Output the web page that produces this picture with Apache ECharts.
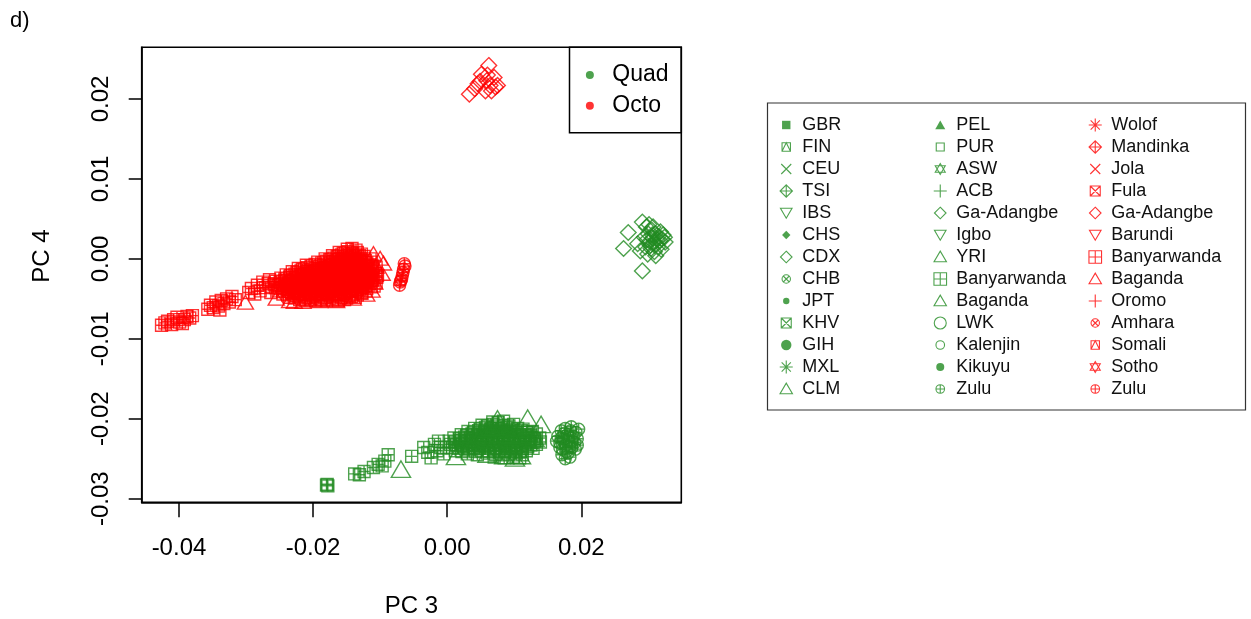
<!DOCTYPE html>
<html>
<head>
<meta charset="utf-8">
<script src="https://cdn.jsdelivr.net/npm/echarts@6/dist/echarts.min.js"></script>
<style>
  html, body { margin: 0; padding: 0; background: #fff; }
  #chart { width: 1251px; height: 619px; }
</style>
</head>
<body>
<div id="chart"></div>
<script>
// ---- tick values ----
const xTicks = [-0.04, -0.02, 0.00, 0.02];
const yTicks = [-0.03, -0.02, -0.01, 0.00, 0.01, 0.02];

// ---- legend columns (population labels and their marker shapes) ----
const quadPopsA = ['GBR', 'FIN', 'CEU', 'TSI', 'IBS', 'CHS', 'CDX', 'CHB', 'JPT', 'KHV', 'GIH', 'MXL', 'CLM'];
const quadShapesA = ['sqFill', 'sqTri', 'cross', 'diaPlus', 'triDown', 'diaFill', 'diamond', 'circX', 'dotSmall', 'sqX', 'dotBig', 'star', 'triUp'];
const quadPopsB = ['PEL', 'PUR', 'ASW', 'ACB', 'Ga-Adangbe', 'Igbo', 'YRI', 'Banyarwanda', 'Baganda', 'LWK', 'Kalenjin', 'Kikuyu', 'Zulu'];
const quadShapesB = ['triFill', 'square', 'david', 'plus', 'diamond', 'triDown', 'triUp', 'sqPlus', 'triUp', 'circle', 'circSmall', 'dotMid', 'circPlus'];
const octoPops = ['Wolof', 'Mandinka', 'Jola', 'Fula', 'Ga-Adangbe', 'Barundi', 'Banyarwanda', 'Baganda', 'Oromo', 'Amhara', 'Somali', 'Sotho', 'Zulu'];
const octoShapes = ['star', 'diaPlus', 'cross', 'sqX', 'diamond', 'triDown', 'sqPlus', 'triUp', 'plus', 'circX', 'sqTri', 'david', 'circPlus'];

// ---- sample coordinates [PC3, PC4] ----
const quadGaAdangbe = [
  [0.0263,0.0013],[0.0270,0.0033],[0.0284,0.0019],[0.0291,0.0046],[0.0294,0.0027],[0.0297,0.0040],[0.0300,0.0031],
  [0.0302,0.0022],[0.0305,0.0036],[0.0307,0.0026],[0.0310,0.0031],[0.0312,0.0018],[0.0315,0.0028],[0.0317,0.0023],
  [0.0320,0.0025],[0.0322,0.0030],[0.0325,0.0021],[0.0299,0.0006],[0.0304,0.0013],[0.0309,0.0009],[0.0314,0.0015],
  [0.0291,-0.0015],[0.0296,0.0015],[0.0307,0.0040],[0.0301,0.0043],[0.0318,0.0034],[0.0311,0.0004],[0.0288,0.0010],
  [0.0303,0.0017],[0.0308,0.0020],[0.0313,0.0024],[0.0298,0.0024],[0.0319,0.0012],[0.0324,0.0027],[0.0306,0.0030]
];
const quadBanyarwanda = [
  [-0.0179,-0.0282],[-0.0178,-0.0284],[-0.0180,-0.0283],[-0.0138,-0.0269],[-0.0131,-0.0270],[-0.0124,-0.0266],
  [-0.0110,-0.0261],[-0.0103,-0.0257],[-0.0097,-0.0259],[-0.0093,-0.0253],[-0.0088,-0.0245],[-0.0053,-0.0247],
  [-0.0035,-0.0236],[-0.0029,-0.0242],[-0.0024,-0.0249],[-0.0019,-0.0232],[-0.0015,-0.0240],[-0.0010,-0.0236],
  [-0.0005,-0.0244],[-0.0013,-0.0228],
  [0.0068,-0.0204],[0.0076,-0.0205],[0.0084,-0.0203],
  [0.0052,-0.0208],[0.0060,-0.0209],[0.0068,-0.0207],[0.0076,-0.0209],[0.0084,-0.0208],[0.0092,-0.0209],[0.0099,-0.0207],
  [0.0041,-0.0212],[0.0049,-0.0213],[0.0057,-0.0211],[0.0065,-0.0213],[0.0073,-0.0212],[0.0081,-0.0213],[0.0089,-0.0211],
  [0.0097,-0.0213],[0.0105,-0.0212],[0.0113,-0.0213],
  [0.0031,-0.0216],[0.0039,-0.0217],[0.0047,-0.0215],[0.0055,-0.0217],[0.0063,-0.0216],[0.0071,-0.0217],[0.0079,-0.0215],
  [0.0087,-0.0217],[0.0095,-0.0216],[0.0103,-0.0217],[0.0111,-0.0215],[0.0119,-0.0217],[0.0127,-0.0216],
  [0.0021,-0.0220],[0.0029,-0.0221],[0.0037,-0.0219],[0.0045,-0.0221],[0.0053,-0.0220],[0.0061,-0.0221],[0.0069,-0.0219],
  [0.0077,-0.0221],[0.0085,-0.0220],[0.0093,-0.0221],[0.0101,-0.0219],[0.0109,-0.0221],[0.0117,-0.0220],[0.0125,-0.0221],
  [0.0133,-0.0219],
  [0.0010,-0.0224],[0.0018,-0.0225],[0.0026,-0.0223],[0.0034,-0.0225],[0.0042,-0.0224],[0.0050,-0.0225],[0.0058,-0.0223],
  [0.0066,-0.0225],[0.0074,-0.0224],[0.0082,-0.0225],[0.0090,-0.0223],[0.0098,-0.0225],[0.0106,-0.0224],[0.0114,-0.0225],
  [0.0122,-0.0223],[0.0130,-0.0225],[0.0138,-0.0224],
  [0.0003,-0.0228],[0.0011,-0.0229],[0.0019,-0.0227],[0.0027,-0.0229],[0.0035,-0.0228],[0.0043,-0.0229],[0.0051,-0.0227],
  [0.0059,-0.0229],[0.0067,-0.0228],[0.0075,-0.0229],[0.0083,-0.0227],[0.0091,-0.0229],[0.0099,-0.0228],[0.0107,-0.0229],
  [0.0115,-0.0227],[0.0123,-0.0229],[0.0131,-0.0228],[0.0139,-0.0229],
  [0.0005,-0.0232],[0.0013,-0.0233],[0.0021,-0.0231],[0.0029,-0.0233],[0.0037,-0.0232],[0.0045,-0.0233],[0.0053,-0.0231],
  [0.0061,-0.0233],[0.0069,-0.0232],[0.0077,-0.0233],[0.0085,-0.0231],[0.0093,-0.0233],[0.0101,-0.0232],[0.0109,-0.0233],
  [0.0117,-0.0231],[0.0125,-0.0233],[0.0133,-0.0232],
  [0.0008,-0.0236],[0.0016,-0.0237],[0.0024,-0.0235],[0.0032,-0.0237],[0.0040,-0.0236],[0.0048,-0.0237],[0.0056,-0.0235],
  [0.0064,-0.0237],[0.0072,-0.0236],[0.0080,-0.0237],[0.0088,-0.0235],[0.0096,-0.0237],[0.0104,-0.0236],[0.0112,-0.0237],
  [0.0120,-0.0235],[0.0128,-0.0237],
  [0.0012,-0.0240],[0.0022,-0.0241],[0.0032,-0.0239],[0.0042,-0.0241],[0.0052,-0.0240],[0.0062,-0.0241],[0.0070,-0.0239],
  [0.0078,-0.0241],[0.0086,-0.0240],[0.0094,-0.0241],[0.0102,-0.0239],[0.0110,-0.0241],[0.0118,-0.0240],
  [0.0030,-0.0244],[0.0045,-0.0245],[0.0060,-0.0243],[0.0072,-0.0245],[0.0082,-0.0244],[0.0092,-0.0245],[0.0102,-0.0243],
  [0.0112,-0.0245],
  [0.0070,-0.0248],[0.0085,-0.0249],[0.0098,-0.0248],[0.0108,-0.0249]
];
const quadBaganda = [
  [-0.0069,-0.0264],[0.0013,-0.0248],[0.0120,-0.0200],[0.0140,-0.0208],[0.0075,-0.0201],[0.0101,-0.0250],
  [0.0085,-0.0247],[0.0060,-0.0245],[0.0110,-0.0247],[0.0095,-0.0222],[0.0130,-0.0225],[0.0050,-0.0228],
  [0.0065,-0.0212],[0.0035,-0.0232]
];
const quadZulu = [
  [0.0165,-0.0222],[0.0168,-0.0230],[0.0170,-0.0215],[0.0172,-0.0238],[0.0174,-0.0225],[0.0176,-0.0212],[0.0177,-0.0233],
  [0.0179,-0.0220],[0.0180,-0.0243],[0.0182,-0.0228],[0.0184,-0.0215],[0.0186,-0.0236],[0.0188,-0.0222],[0.0190,-0.0230],
  [0.0192,-0.0217],[0.0194,-0.0225],[0.0196,-0.0213],[0.0171,-0.0245],[0.0176,-0.0250],[0.0183,-0.0248],[0.0168,-0.0236],
  [0.0175,-0.0218],[0.0181,-0.0223],[0.0187,-0.0228],[0.0191,-0.0238],[0.0173,-0.0228],[0.0185,-0.0210],[0.0178,-0.0241],
  [0.0163,-0.0228],[0.0194,-0.0233],[0.0170,-0.0224],[0.0183,-0.0235]
];
const octoGaAdangbe = [
  [0.0033,0.0206],[0.0041,0.0213],[0.0046,0.0219],[0.0051,0.0231],[0.0062,0.0242],[0.0059,0.0223],[0.0064,0.0217],
  [0.0070,0.0227],[0.0072,0.0215],[0.0075,0.0217],[0.0057,0.0210],[0.0049,0.0222],[0.0060,0.0230],[0.0066,0.0210]
];
const octoZulu = [
  [-0.0071,-0.0033],[-0.0070,-0.0029],[-0.0068,-0.0025],[-0.0067,-0.0021],[-0.0066,-0.0017],[-0.0065,-0.0013],
  [-0.0063,-0.0009],[-0.0064,-0.0006],[-0.0069,-0.0027]
];
const octoBaganda = [
  [-0.0301,-0.0055],[-0.0255,-0.0050],[-0.0235,-0.0053],[-0.0228,-0.0054],[-0.0215,-0.0054],[-0.0190,-0.0053],
  [-0.0165,-0.0053],[-0.0140,-0.0050],[-0.0120,-0.0045],[-0.0100,0.0000],[-0.0095,-0.0006],[-0.0097,-0.0019],
  [-0.0106,-0.0010],[-0.0108,-0.0030],[-0.0112,-0.0040],[-0.0110,0.0006],[-0.0115,-0.0025]
];
const octoBanyarwanda = [
  [-0.0426,-0.0083],[-0.0421,-0.0080],[-0.0417,-0.0078],[-0.0411,-0.0082],[-0.0408,-0.0076],[-0.0403,-0.0073],
  [-0.0399,-0.0079],[-0.0395,-0.0081],[-0.0392,-0.0076],[-0.0388,-0.0072],[-0.0384,-0.0074],[-0.0380,-0.0071],
  [-0.0357,-0.0063],[-0.0353,-0.0058],[-0.0349,-0.0061],[-0.0345,-0.0054],[-0.0341,-0.0059],[-0.0337,-0.0052],
  [-0.0333,-0.0056],[-0.0329,-0.0050],[-0.0325,-0.0054],[-0.0321,-0.0047],[-0.0316,-0.0051],[-0.0339,-0.0064],
  [-0.0296,-0.0042],[-0.0292,-0.0037],[-0.0287,-0.0044],[-0.0283,-0.0033],[-0.0279,-0.0040],[-0.0275,-0.0029],
  [-0.0271,-0.0036],[-0.0267,-0.0031],[-0.0263,-0.0042],[-0.0265,-0.0026],
  [-0.0149,0.0012],[-0.0142,0.0013],[-0.0136,0.0011],
  [-0.0161,0.0008],[-0.0155,0.0007],[-0.0148,0.0009],[-0.0141,0.0007],[-0.0134,0.0008],[-0.0128,0.0006],
  [-0.0171,0.0004],[-0.0164,0.0003],[-0.0158,0.0005],[-0.0151,0.0003],[-0.0145,0.0004],[-0.0138,0.0002],[-0.0131,0.0004],
  [-0.0124,0.0003],
  [-0.0182,0.0000],[-0.0175,-0.0001],[-0.0169,0.0001],[-0.0162,-0.0001],[-0.0156,0.0000],[-0.0149,-0.0002],[-0.0143,0.0001],
  [-0.0136,-0.0001],[-0.0129,0.0000],[-0.0122,-0.0002],[-0.0115,0.0000],
  [-0.0193,-0.0004],[-0.0187,-0.0005],[-0.0180,-0.0003],[-0.0174,-0.0005],[-0.0167,-0.0004],[-0.0160,-0.0006],[-0.0154,-0.0003],
  [-0.0147,-0.0005],[-0.0140,-0.0004],[-0.0134,-0.0006],[-0.0127,-0.0003],[-0.0120,-0.0005],[-0.0113,-0.0004],
  [-0.0210,-0.0008],[-0.0203,-0.0009],[-0.0197,-0.0007],[-0.0190,-0.0009],[-0.0184,-0.0008],[-0.0177,-0.0010],[-0.0171,-0.0007],
  [-0.0164,-0.0009],[-0.0158,-0.0008],[-0.0151,-0.0010],[-0.0145,-0.0007],[-0.0138,-0.0009],[-0.0132,-0.0008],[-0.0125,-0.0010],
  [-0.0118,-0.0008],[-0.0111,-0.0009],
  [-0.0222,-0.0012],[-0.0216,-0.0013],[-0.0209,-0.0011],[-0.0203,-0.0014],[-0.0196,-0.0012],[-0.0190,-0.0013],[-0.0183,-0.0011],
  [-0.0177,-0.0014],[-0.0170,-0.0012],[-0.0164,-0.0013],[-0.0157,-0.0011],[-0.0151,-0.0014],[-0.0144,-0.0012],[-0.0138,-0.0013],
  [-0.0131,-0.0011],[-0.0125,-0.0014],[-0.0118,-0.0012],[-0.0112,-0.0013],[-0.0106,-0.0011],
  [-0.0231,-0.0016],[-0.0224,-0.0017],[-0.0218,-0.0015],[-0.0211,-0.0018],[-0.0205,-0.0016],[-0.0198,-0.0017],[-0.0192,-0.0015],
  [-0.0185,-0.0018],[-0.0179,-0.0016],[-0.0172,-0.0017],[-0.0166,-0.0015],[-0.0159,-0.0018],[-0.0153,-0.0016],[-0.0146,-0.0017],
  [-0.0140,-0.0015],[-0.0133,-0.0018],[-0.0127,-0.0016],[-0.0120,-0.0017],[-0.0114,-0.0015],[-0.0107,-0.0018],
  [-0.0240,-0.0020],[-0.0234,-0.0021],[-0.0227,-0.0019],[-0.0221,-0.0022],[-0.0214,-0.0020],[-0.0208,-0.0021],[-0.0201,-0.0019],
  [-0.0195,-0.0022],[-0.0188,-0.0020],[-0.0182,-0.0021],[-0.0175,-0.0019],[-0.0169,-0.0022],[-0.0162,-0.0020],[-0.0156,-0.0021],
  [-0.0149,-0.0019],[-0.0143,-0.0022],[-0.0136,-0.0020],[-0.0130,-0.0021],[-0.0123,-0.0019],[-0.0117,-0.0022],[-0.0110,-0.0020],
  [-0.0104,-0.0021],
  [-0.0248,-0.0024],[-0.0242,-0.0025],[-0.0235,-0.0023],[-0.0229,-0.0026],[-0.0222,-0.0024],[-0.0216,-0.0025],[-0.0209,-0.0023],
  [-0.0203,-0.0026],[-0.0196,-0.0024],[-0.0190,-0.0025],[-0.0183,-0.0023],[-0.0177,-0.0026],[-0.0170,-0.0024],[-0.0164,-0.0025],
  [-0.0157,-0.0023],[-0.0151,-0.0026],[-0.0144,-0.0024],[-0.0138,-0.0025],[-0.0131,-0.0023],[-0.0125,-0.0026],[-0.0118,-0.0024],
  [-0.0112,-0.0025],[-0.0105,-0.0023],
  [-0.0255,-0.0028],[-0.0249,-0.0029],[-0.0242,-0.0027],[-0.0236,-0.0030],[-0.0229,-0.0028],[-0.0223,-0.0029],[-0.0216,-0.0027],
  [-0.0210,-0.0030],[-0.0203,-0.0028],[-0.0197,-0.0029],[-0.0190,-0.0027],[-0.0184,-0.0030],[-0.0177,-0.0028],[-0.0171,-0.0029],
  [-0.0164,-0.0027],[-0.0158,-0.0030],[-0.0151,-0.0028],[-0.0145,-0.0029],[-0.0138,-0.0027],[-0.0132,-0.0030],[-0.0125,-0.0028],
  [-0.0119,-0.0029],[-0.0112,-0.0027],[-0.0106,-0.0030],
  [-0.0258,-0.0032],[-0.0252,-0.0033],[-0.0245,-0.0031],[-0.0239,-0.0034],[-0.0232,-0.0032],[-0.0226,-0.0033],[-0.0219,-0.0031],
  [-0.0213,-0.0034],[-0.0206,-0.0032],[-0.0200,-0.0033],[-0.0193,-0.0031],[-0.0187,-0.0034],[-0.0180,-0.0032],[-0.0174,-0.0033],
  [-0.0167,-0.0031],[-0.0161,-0.0034],[-0.0154,-0.0032],[-0.0148,-0.0033],[-0.0141,-0.0031],[-0.0135,-0.0034],[-0.0128,-0.0032],
  [-0.0122,-0.0033],[-0.0115,-0.0031],[-0.0109,-0.0034],
  [-0.0256,-0.0036],[-0.0250,-0.0037],[-0.0243,-0.0035],[-0.0237,-0.0038],[-0.0230,-0.0036],[-0.0224,-0.0037],[-0.0217,-0.0035],
  [-0.0211,-0.0038],[-0.0204,-0.0036],[-0.0198,-0.0037],[-0.0191,-0.0035],[-0.0185,-0.0038],[-0.0178,-0.0036],[-0.0172,-0.0037],
  [-0.0165,-0.0035],[-0.0159,-0.0038],[-0.0152,-0.0036],[-0.0146,-0.0037],[-0.0139,-0.0035],[-0.0133,-0.0038],[-0.0126,-0.0036],
  [-0.0120,-0.0037],[-0.0113,-0.0035],
  [-0.0252,-0.0040],[-0.0245,-0.0041],[-0.0239,-0.0039],[-0.0232,-0.0042],[-0.0226,-0.0040],[-0.0219,-0.0041],[-0.0213,-0.0039],
  [-0.0206,-0.0042],[-0.0200,-0.0040],[-0.0193,-0.0041],[-0.0187,-0.0039],[-0.0180,-0.0042],[-0.0174,-0.0040],[-0.0167,-0.0041],
  [-0.0161,-0.0039],[-0.0154,-0.0042],[-0.0148,-0.0040],[-0.0141,-0.0041],[-0.0135,-0.0039],[-0.0128,-0.0042],[-0.0121,-0.0040],
  [-0.0245,-0.0044],[-0.0238,-0.0045],[-0.0232,-0.0043],[-0.0225,-0.0046],[-0.0219,-0.0044],[-0.0212,-0.0045],[-0.0206,-0.0043],
  [-0.0199,-0.0046],[-0.0193,-0.0044],[-0.0186,-0.0045],[-0.0180,-0.0043],[-0.0173,-0.0046],[-0.0167,-0.0044],[-0.0160,-0.0045],
  [-0.0154,-0.0043],[-0.0147,-0.0046],[-0.0141,-0.0044],[-0.0134,-0.0045],[-0.0127,-0.0043],
  [-0.0235,-0.0048],[-0.0228,-0.0049],[-0.0222,-0.0047],[-0.0215,-0.0050],[-0.0209,-0.0048],[-0.0202,-0.0049],[-0.0196,-0.0047],
  [-0.0189,-0.0050],[-0.0183,-0.0048],[-0.0176,-0.0049],[-0.0170,-0.0047],[-0.0163,-0.0050],[-0.0157,-0.0048],[-0.0150,-0.0049],
  [-0.0143,-0.0047],[-0.0137,-0.0048],
  [-0.0220,-0.0051],[-0.0212,-0.0052],[-0.0204,-0.0051],[-0.0196,-0.0052],[-0.0188,-0.0051],[-0.0180,-0.0052],[-0.0171,-0.0051],
  [-0.0162,-0.0052],[-0.0153,-0.0051]
];

const pointsByKey = {
  'q:Ga-Adangbe': quadGaAdangbe,
  'q:Banyarwanda': quadBanyarwanda,
  'q:Baganda': quadBaganda,
  'q:Zulu': quadZulu,
  'o:Ga-Adangbe': octoGaAdangbe,
  'o:Banyarwanda': octoBanyarwanda,
  'o:Baganda': octoBaganda,
  'o:Zulu': octoZulu
};

// ---- styling ----
const GREEN = '#228B22';
const RED = '#FF0000';
const FONT = "'Liberation Sans', Arial, Helvetica, sans-serif";

// marker outlines in a fixed 20x20 frame (the leading moves pin the frame)
const FRAME = 'M0 0M20 20';
const SHAPES = {
  sqFill:    'M5.8 5.8H14.2V14.2H5.8Z',
  sqTri:     'M5.8 5.8H14.2V14.2H5.8ZM5.8 14.2L10 5.8L14.2 14.2',
  cross:     'M5 5L15 15M15 5L5 15',
  diaPlus:   'M10 3.8L16.2 10L10 16.2L3.8 10ZM3.8 10H16.2M10 3.8V16.2',
  triDown:   'M4.2 5.2H15.8L10 15.2Z',
  diaFill:   'M10 5.8L14.2 10L10 14.2L5.8 10Z',
  diamond:   'M10 4.2L15.8 10L10 15.8L4.2 10Z',
  circX:     'M5.8 10A4.2 4.2 0 1 1 14.2 10A4.2 4.2 0 1 1 5.8 10ZM7 7L13 13M13 7L7 13',
  dotSmall:  'M6.8 10A3.2 3.2 0 1 1 13.2 10A3.2 3.2 0 1 1 6.8 10Z',
  sqX:       'M5 5H15V15H5ZM5 5L15 15M15 5L5 15',
  dotBig:    'M4.8 10A5.2 5.2 0 1 1 15.2 10A5.2 5.2 0 1 1 4.8 10Z',
  star:      'M10 3.5V16.5M3.5 10H16.5M5.4 5.4L14.6 14.6M14.6 5.4L5.4 14.6',
  triUp:     'M3.8 14.8H16.2L10 4.2Z',
  triFill:   'M5 14.2H15L10 5.6Z',
  square:    'M6 6H14V14H6Z',
  david:     'M10 4.5L15 13.2H5ZM10 15.5L5 6.8H15Z',
  plus:      'M10 3.5V16.5M3.5 10H16.5',
  sqPlus:    'M3.7 3.7H16.3V16.3H3.7ZM10 3.7V16.3M3.7 10H16.3',
  circle:    'M4 10A6 6 0 1 1 16 10A6 6 0 1 1 4 10Z',
  circSmall: 'M5.7 10A4.3 4.3 0 1 1 14.3 10A4.3 4.3 0 1 1 5.7 10Z',
  dotMid:    'M6 10A4 4 0 1 1 14 10A4 4 0 1 1 6 10Z',
  circPlus:  'M5.7 10A4.3 4.3 0 1 1 14.3 10A4.3 4.3 0 1 1 5.7 10ZM5.7 10H14.3M10 5.7V14.3'
};
const FILLED = new Set(['sqFill', 'diaFill', 'dotSmall', 'dotBig', 'triFill', 'dotMid']);
const symbolOf = k => 'path://' + FRAME + SHAPES[k];
// group-key dot, centred in a 35x8 legend slot
const GROUP_DOT = 'path://M0 0M35 8M13.3 4A4.2 4.2 0 1 1 21.7 4A4.2 4.2 0 1 1 13.3 4Z';

// marker size inside the plot panel
const plotSize = {
  'q:Banyarwanda': 19, 'q:Baganda': 31, 'q:Ga-Adangbe': 27, 'q:Zulu': 28,
  'o:Banyarwanda': 19, 'o:Baganda': 26, 'o:Ga-Adangbe': 27, 'o:Zulu': 28
};

function markerStyle(shape, color, width) {
  return FILLED.has(shape)
    ? { color: color, borderColor: color, borderWidth: 0 }
    : { color: 'rgba(0,0,0,0)', borderColor: color, borderWidth: width };
}

function popSeries(prefix, color, names, shapes) {
  return names.map((n, i) => {
    const key = prefix + ':' + n;
    return {
      type: 'scatter',
      name: key,
      data: pointsByKey[key] || [],
      symbol: symbolOf(shapes[i]),
      symbolSize: plotSize[key] || 20,
      symbolKeepAspect: true,
      itemStyle: markerStyle(shapes[i], color, 1.4),
      silent: true,
      emphasis: { disabled: true }
    };
  });
}

function popLegend(left, prefix, color, names, shapes) {
  return {
    left: left, top: 114, orient: 'vertical', padding: 0, itemGap: 0,
    itemWidth: 22, itemHeight: 20, selectedMode: false,
    formatter: n => n.slice(2),
    textStyle: { fontSize: 18, lineHeight: 22, color: '#111', fontFamily: FONT },
    data: names.map((n, i) => ({
      name: prefix + ':' + n,
      icon: symbolOf(shapes[i]),
      itemStyle: markerStyle(shapes[i], color, 1.1)
    }))
  };
}

const series = [].concat(
  popSeries('q', GREEN, quadPopsA, quadShapesA),
  popSeries('q', GREEN, quadPopsB, quadShapesB),
  popSeries('o', RED, octoPops, octoShapes),
  [
    { type: 'scatter', name: 'Quad', data: [], itemStyle: { color: GREEN } },
    { type: 'scatter', name: 'Octo', data: [], itemStyle: { color: RED } }
  ]
);

const chart = echarts.init(document.getElementById('chart'), null, { renderer: 'canvas' });
chart.setOption({
  animation: false,
  backgroundColor: '#fff',
  textStyle: { fontFamily: FONT },
  grid: {
    left: 141.7, top: 47.3, width: 539.6, height: 455,
    show: true, borderColor: '#000', borderWidth: 1.6,
    containLabel: false, outerBoundsMode: 'none'
  },
  xAxis: {
    type: 'value', min: -0.04556, max: 0.03491,
    axisLine: { show: true, onZero: false, lineStyle: { color: '#000', width: 1.6 } },
    axisTick: { show: true, length: 15, customValues: xTicks, lineStyle: { color: '#000', width: 1.5 } },
    axisLabel: { customValues: xTicks, formatter: v => v.toFixed(2), fontSize: 24, color: '#000', margin: 34 },
    splitLine: { show: false },
    name: 'PC 3', nameLocation: 'middle', nameGap: 92,
    nameTextStyle: { fontSize: 24, color: '#000' }
  },
  yAxis: {
    type: 'value', min: -0.03045, max: 0.02647,
    axisLine: { show: true, onZero: false, lineStyle: { color: '#000', width: 1.6 } },
    axisTick: { show: true, length: 13, customValues: yTicks, lineStyle: { color: '#000', width: 1.5 } },
    axisLabel: { customValues: yTicks, formatter: v => v.toFixed(2), rotate: 90, fontSize: 24, color: '#000', margin: 28 },
    splitLine: { show: false }
  },
  legend: [
    popLegend(775.7, 'q', GREEN, quadPopsA, quadShapesA),
    popLegend(929.7, 'q', GREEN, quadPopsB, quadShapesB),
    popLegend(1084.7, 'o', RED, octoPops, octoShapes),
    {
      left: 573.2, top: 59.6, orient: 'vertical', padding: 0, itemGap: 0,
      itemWidth: 35, itemHeight: 8, selectedMode: false,
      textStyle: { fontSize: 23, lineHeight: 30.7, color: '#000', fontFamily: FONT },
      data: [
        { name: 'Quad', icon: GROUP_DOT, itemStyle: { color: GREEN } },
        { name: 'Octo', icon: GROUP_DOT, itemStyle: { color: RED } }
      ]
    }
  ],
  graphic: [
    { type: 'text', left: 10, top: 10, style: { text: 'd)', fontSize: 22, fill: '#000', fontFamily: FONT } },
    { type: 'text', x: 42, y: 256, rotation: Math.PI / 2,
      style: { text: 'PC 4', fontSize: 24, fill: '#000', fontFamily: FONT, align: 'center', verticalAlign: 'middle' } },
    { type: 'rect', shape: { x: 569.5, y: 47.3, width: 111.8, height: 85.4 },
      style: { fill: 'none', stroke: '#000', lineWidth: 1.5 }, silent: true },
    { type: 'rect', shape: { x: 767.5, y: 103, width: 478, height: 307 },
      style: { fill: 'none', stroke: '#333', lineWidth: 1.2 }, silent: true }
  ],
  series: series
});
</script>
</body>
</html>
